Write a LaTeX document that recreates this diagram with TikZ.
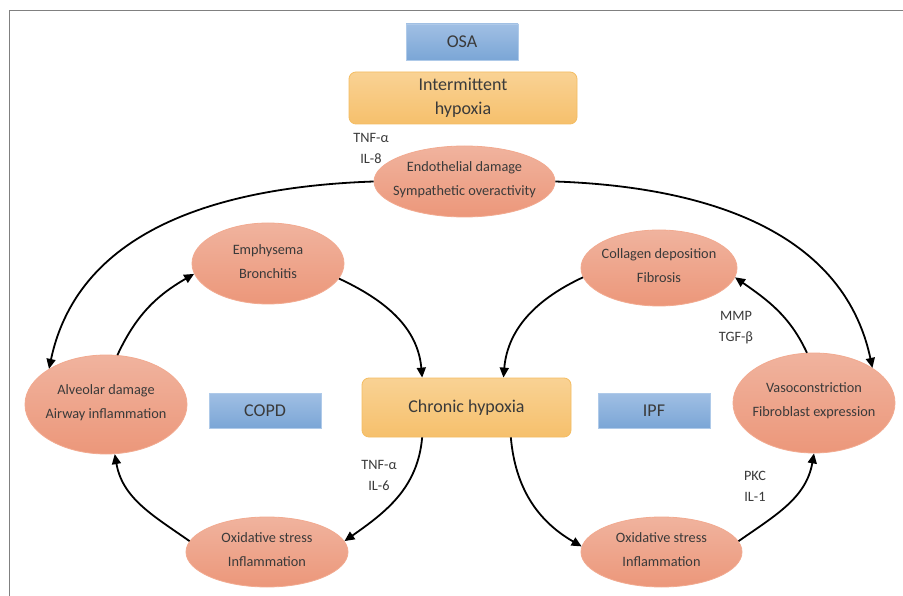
\documentclass[tikz,border=0pt]{standalone}
\usepackage{fontspec}
\setmainfont{Carlito}
\usetikzlibrary{arrows.meta,shapes.geometric}
\definecolor{txtc}{HTML}{3A3A3A}
\definecolor{ovtop}{HTML}{F0B39E}
\definecolor{ovbot}{HTML}{EC977A}
\definecolor{ovedge}{HTML}{F2AA90}
\definecolor{yt}{HTML}{F9D294}
\definecolor{yb}{HTML}{F6C06C}
\definecolor{yedge}{HTML}{F4BD62}
\definecolor{bt}{HTML}{A0BFE4}
\definecolor{bb}{HTML}{7BA6D6}
\definecolor{bedge}{HTML}{AFCAE9}
\begin{document}
\begin{tikzpicture}[x=1pt,y=1pt,
  oval/.style={ellipse, top color=ovtop, bottom color=ovbot, draw=ovedge, line width=0.8pt, inner sep=0pt},
  ybox/.style={rectangle, rounded corners=7pt, top color=yt, bottom color=yb, draw=yedge, line width=0.8pt, inner sep=0pt},
  bbox/.style={rectangle, top color=bt, bottom color=bb, draw=bedge, line width=0.8pt, inner sep=0pt},
  ovtext/.style={font=\fontsize{14.3}{24}\selectfont, text=txtc, align=center, inner sep=0pt, yshift=2pt},
  lbl/.style={font=\fontsize{14.3}{21}\selectfont, text=txtc, align=center, inner sep=0pt},
  big/.style={font=\fontsize{18}{24}\selectfont, text=txtc, align=center, inner sep=0pt},
  arr/.style={-{Triangle[length=10pt,width=9pt]}, line width=1.8pt, black}]
\useasboundingbox (0,0) rectangle (903,-596);
\fill[white] (0,0) rectangle (903,-596);
\draw[gray, line width=1pt] (903,-11) -- (9,-11) -- (9,-596);

% boxes
\node[bbox, minimum width=112, minimum height=36] (osa) at (462,-42) {};
\node[big] (osat) at (osa) {OSA};
\node[ybox, minimum width=228, minimum height=52] (ih) at (463,-98) {};
\node[big] (iht) at (ih) {Intermittent\\hypoxia};
\node[ybox, minimum width=209, minimum height=59] (chr) at (466.5,-407.5) {};
\node[big] (chrt) at (chr) {Chronic hypoxia};
\node[bbox, minimum width=112, minimum height=35] (copd) at (265,-410.5) {};
\node[big] (copdt) at (copd) {COPD};
\node[bbox, minimum width=112, minimum height=35] (ipf) at (654,-410.5) {};
\node[big] (ipft) at (ipf) {IPF};

% ovals
\node[oval, minimum width=181, minimum height=71] (endo) at (464.5,-181.5) {};
\node[ovtext] (endot) at (endo) {Endothelial damage\\Sympathetic overactivity};
\node[oval, minimum width=152, minimum height=81] (emph) at (268,-263.5) {};
\node[ovtext] (empht) at (emph) {Emphysema\\Bronchitis};
\node[oval, minimum width=156, minimum height=76] (col) at (659,-268) {};
\node[ovtext] (colt) at (col) {Collagen deposition\\Fibrosis};
\node[oval, minimum width=162, minimum height=99] (alv) at (106,-404.5) {};
\node[ovtext] (alvt) at (alv) {Alveolar damage\\Airway inflammation};
\node[oval, minimum width=162, minimum height=100] (vaso) at (814,-403) {};
\node[ovtext] (vasot) at (vaso) {Vasoconstriction\\Fibroblast expression};
\node[oval, minimum width=162, minimum height=70] (oxl) at (267,-552) {};
\node[ovtext] (oxlt) at (oxl) {Oxidative stress\\Inflammation};
\node[oval, minimum width=161, minimum height=70] (oxr) at (661.5,-552) {};
\node[ovtext] (oxrt) at (oxr) {Oxidative stress\\Inflammation};

% labels
\node[lbl] (l1) at (371,-148) {TNF-α\\IL-8};
\node[lbl] (l2) at (379,-475) {TNF-α\\IL-6};
\node[lbl] (l3) at (736,-328) {MMP\\TGF-β};
\node[lbl] (l4) at (755,-486) {PKC\\IL-1};

% arrows
\draw[arr] (endo.west) to[out=182,in=78] (alv.148);
\draw[arr] (endo.east) to[out=-2,in=102] (vaso.31);
\draw[arr] (alv.77) to[out=65,in=210] (emph.188);
\draw[arr] (emph.-12) to[out=-25,in=95] (chr.146);
\draw[arr] (col.187) to[out=205,in=85] (chr.39);
\draw[arr] (vaso.98) to[out=115,in=-35] (col.-7);
\draw[arr] (chr.214) to[out=-95,in=35] (oxl.8);
\draw[arr] (oxl.172) to[out=145,in=-80] (alv.280);
\draw[arr] (chr.326) to[out=-85,in=150] (oxr.176);
\draw[arr] (oxr.8) to[out=35,in=-100] (vaso.270);
\end{tikzpicture}
\end{document}
